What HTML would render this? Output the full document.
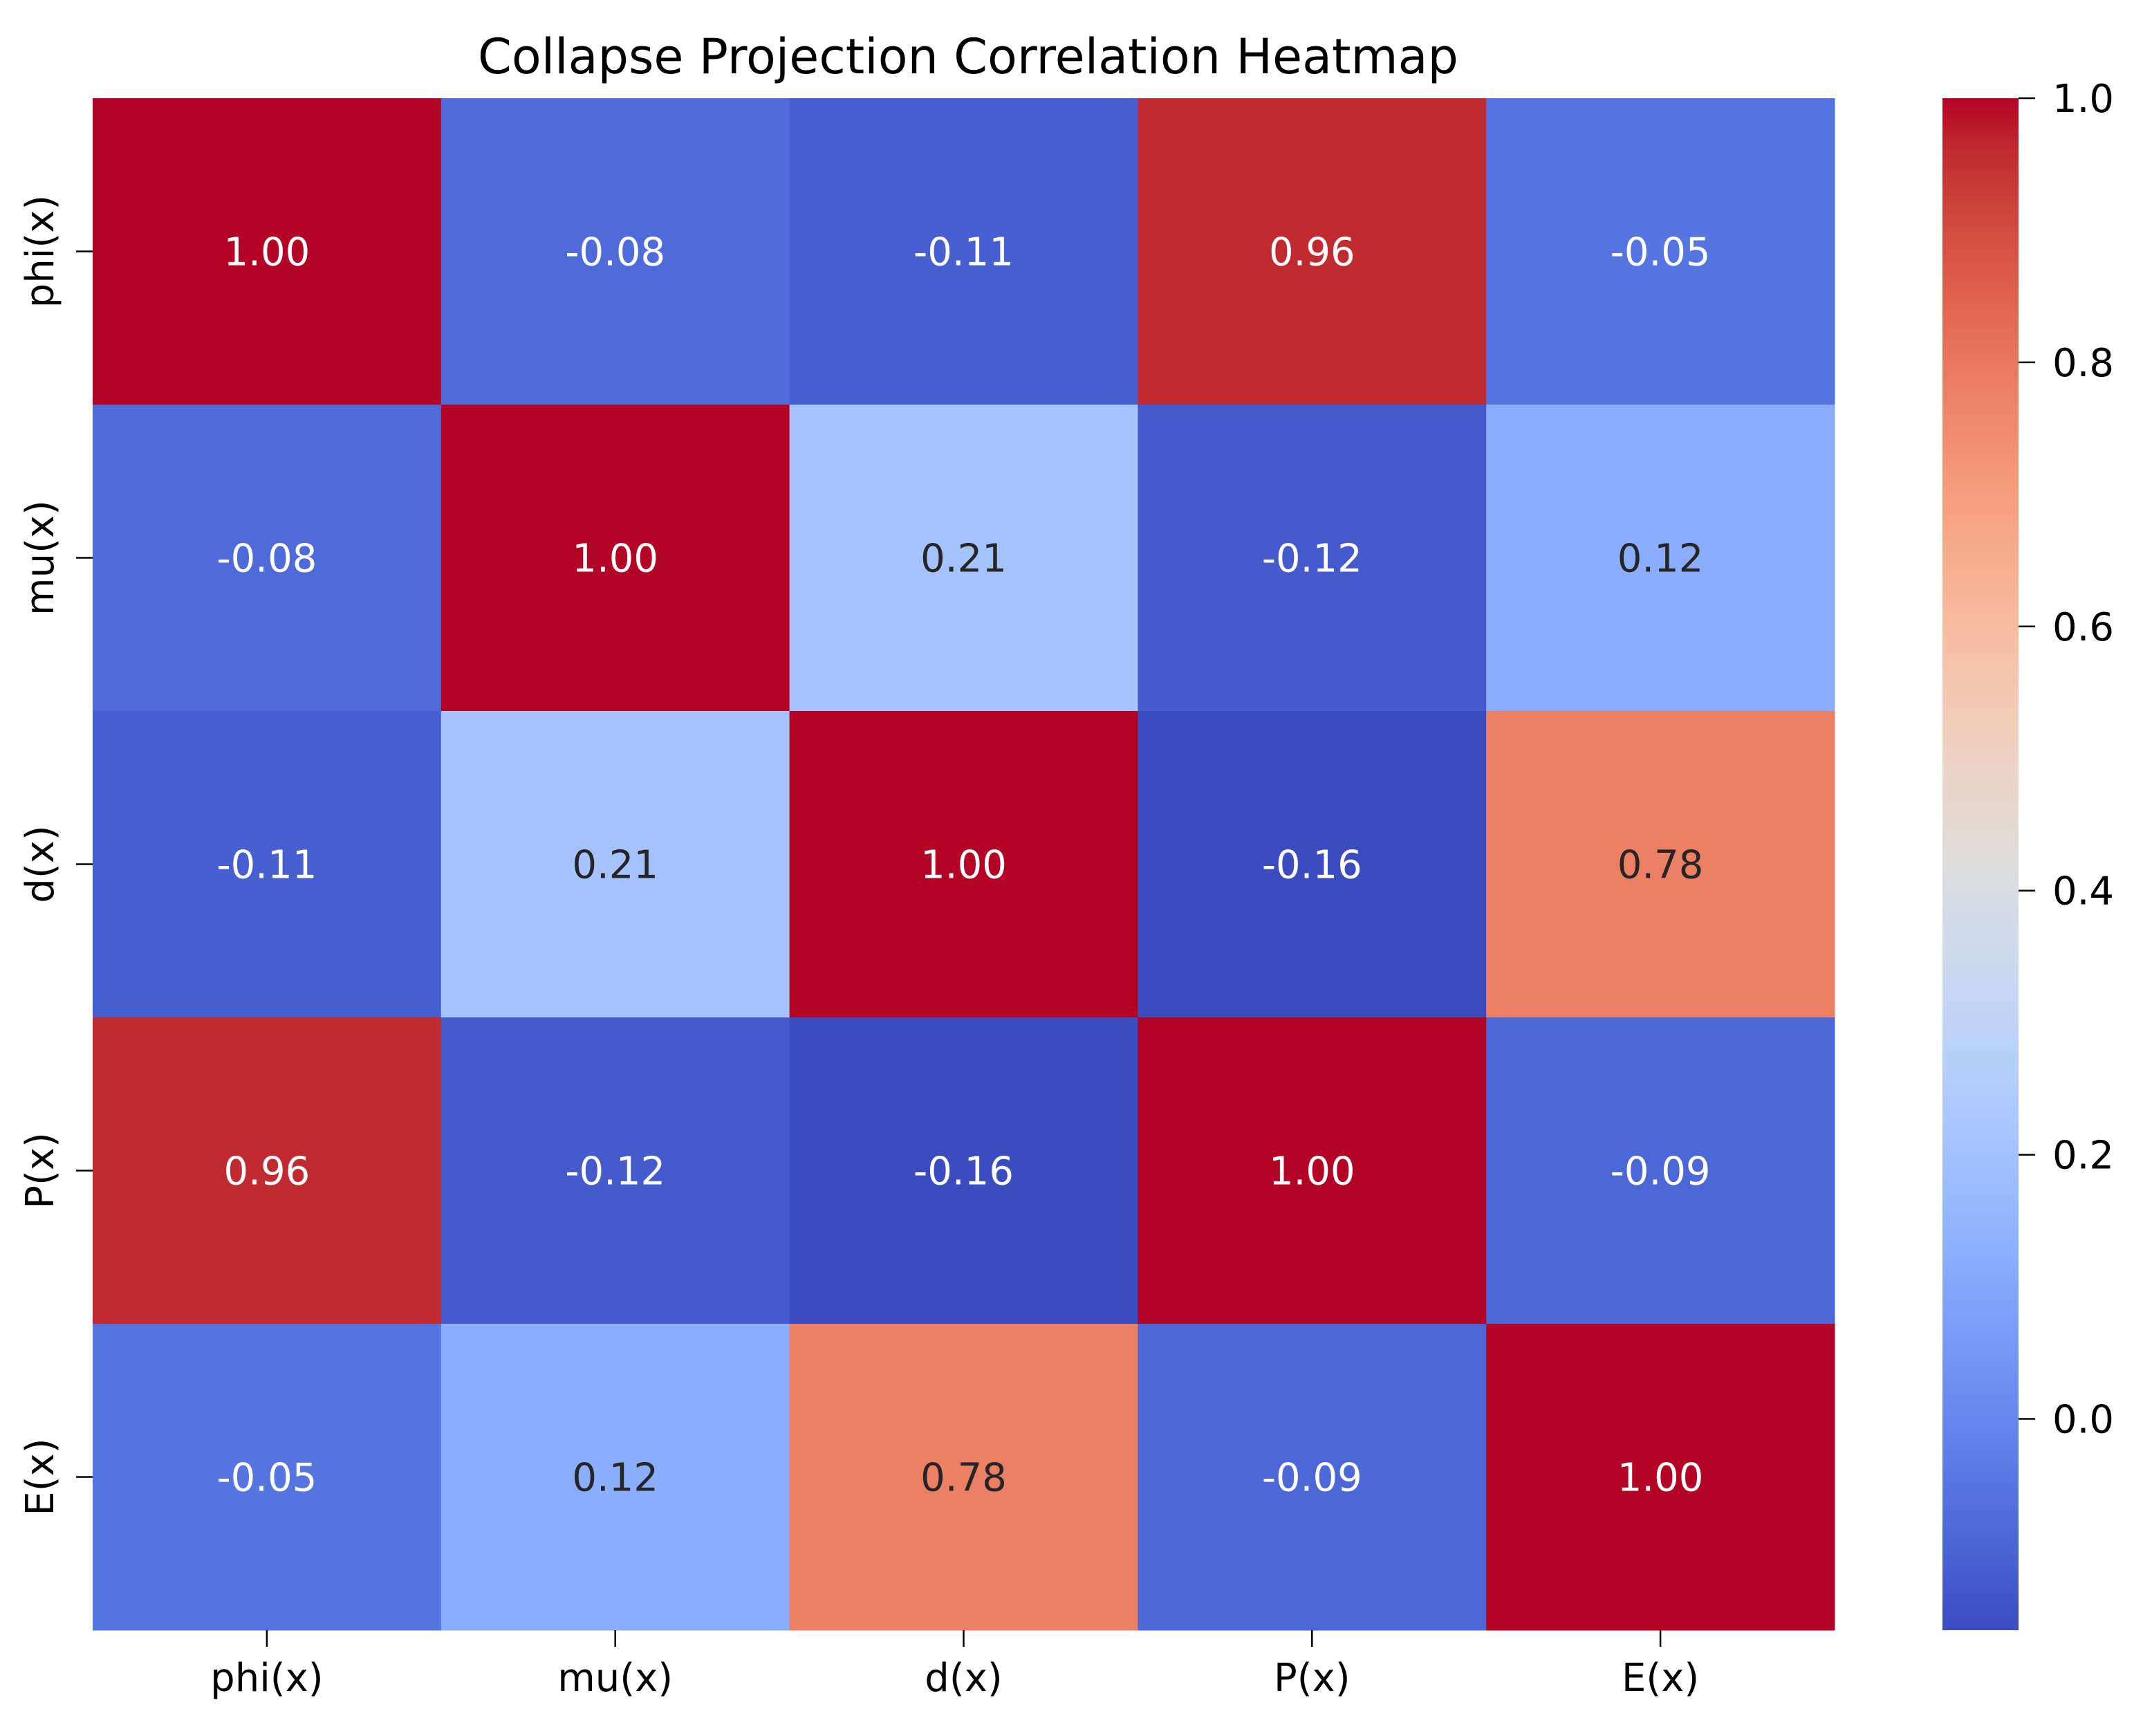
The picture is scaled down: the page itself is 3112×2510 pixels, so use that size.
<!DOCTYPE html>
<html><head><meta charset="utf-8"><style>
html,body{margin:0;padding:0;background:#fff;}
svg{display:block;font-family:"DejaVu Sans","Liberation Sans",sans-serif;}
</style></head><body>
<svg id="chart" width="3112" height="2510" viewBox="0 0 3112 2510" xmlns="http://www.w3.org/2000/svg">
<rect width="3112" height="2510" fill="#fff"/>
<text x="1400" y="106" font-size="70" text-anchor="middle" fill="#000">Collapse Projection Correlation Heatmap</text>
<defs><linearGradient id="cbgrad" x1="0" y1="1" x2="0" y2="0"></linearGradient></defs>
<g id="cells"></g><g id="axes"></g><g id="cbar"></g>
</svg>
<script>
const labels = ["phi(x)","mu(x)","d(x)","P(x)","E(x)"];
const row0 = [1.00,-0.08,-0.11,0.96,-0.05];
const row1 = [-0.08,1.00,0.21,-0.12,0.12];
const row2 = [-0.11,0.21,1.00,-0.16,0.78];
const row3 = [0.96,-0.12,-0.16,1.00,-0.09];
const row4 = [-0.05,0.12,0.78,-0.09,1.00];
const matrix = [row0,row1,row2,row3,row4];
const cbTicks = [0.0,0.2,0.4,0.6,0.8,1.0];
const vmin = -0.16, vmax = 1.0;

const CW=[[59,76,192],[68,90,204],[77,104,215],[87,117,225],[98,130,234],[108,142,241],[119,154,247],[130,165,251],[141,176,254],[152,185,255],[163,194,255],[174,201,253],[184,208,249],[194,213,244],[204,217,238],[213,219,230],[221,221,221],[229,216,209],[236,211,197],[241,204,184],[245,196,172],[247,187,159],[247,177,147],[247,166,134],[244,154,123],[241,141,111],[236,127,99],[229,112,89],[222,96,77],[213,80,66],[203,62,56],[192,40,47],[180,4,38]];
function cmap(t){t=Math.max(0,Math.min(1,t));const p=t*32,i=Math.min(31,Math.floor(p)),f=p-i;
const a=CW[i],b=CW[i+1];return `rgb(${a.map((v,k)=>Math.round(v+(b[k]-v)*f)).join(',')})`;}
function lum(t){t=Math.max(0,Math.min(1,t));const i=Math.round(t*32);const c=CW[i];return (0.299*c[0]+0.587*c[1]+0.114*c[2])/255;}

const L=134,R=2653,T=142,B=2357;
const cw=(R-L)/labels.length, ch=(B-T)/labels.length;
const xPos=i=>L+i*cw, yPos=j=>T+j*ch;
const norm=v=>(v-vmin)/(vmax-vmin);
const NS="http://www.w3.org/2000/svg";
function mk(tag,attrs,parent){const e=document.createElementNS(NS,tag);for(const k in attrs)e.setAttribute(k,attrs[k]);parent.appendChild(e);return e;}
const cells=document.getElementById('cells'),axes=document.getElementById('axes'),cbar=document.getElementById('cbar');

matrix.forEach((row,j)=>row.forEach((v,i)=>{
  const r=mk('rect',{x:xPos(i),y:yPos(j),width:cw+0.5,height:ch+0.5,fill:cmap(norm(v))},cells);
  
  
  const t=mk('text',{x:xPos(i)+cw/2,y:yPos(j)+ch/2+20,'font-size':56,'text-anchor':'middle',fill:lum(norm(v))>0.5?'#262626':'#ffffff'},cells);
  
  
  t.textContent=v.toFixed(2);
}));

labels.forEach((lab,i)=>{
  const cx=xPos(i)+cw/2;
  mk('line',{x1:cx,y1:B,x2:cx,y2:B+24,stroke:'#000','stroke-width':2.5},axes);
  const t=mk('text',{x:cx,y:B+88,'font-size':56,'text-anchor':'middle',fill:'#000'},axes);
  
  
  t.textContent=lab;
  const cy=yPos(i)+ch/2;
  mk('line',{x1:L-24,y1:cy,x2:L,y2:cy,stroke:'#000','stroke-width':2.5},axes);
  const u=mk('text',{x:0,y:0,'font-size':56,'text-anchor':'middle',fill:'#000',transform:`translate(77,${cy}) rotate(-90)`},axes);
  
  
  u.textContent=lab;
});

const grad=document.getElementById('cbgrad');
for(let k=0;k<=32;k++){mk('stop',{offset:k/32,'stop-color':cmap(k/32)},grad);}
const CBL=2809,CBR=2919;
const cb=mk('rect',{x:CBL,y:T,width:CBR-CBL,height:B-T,fill:'url(#cbgrad)'},cbar);


const cbY=v=>B-norm(v)*(B-T);
cbTicks.forEach(v=>{
  const y=cbY(v);
  mk('line',{x1:CBR,y1:y,x2:CBR+24,y2:y,stroke:'#000','stroke-width':2.5},cbar);
  const t=mk('text',{x:2968,y:y+20,'font-size':56,fill:'#000'},cbar);
  
  
  t.textContent=v.toFixed(1);
});
</script>
</body></html>
